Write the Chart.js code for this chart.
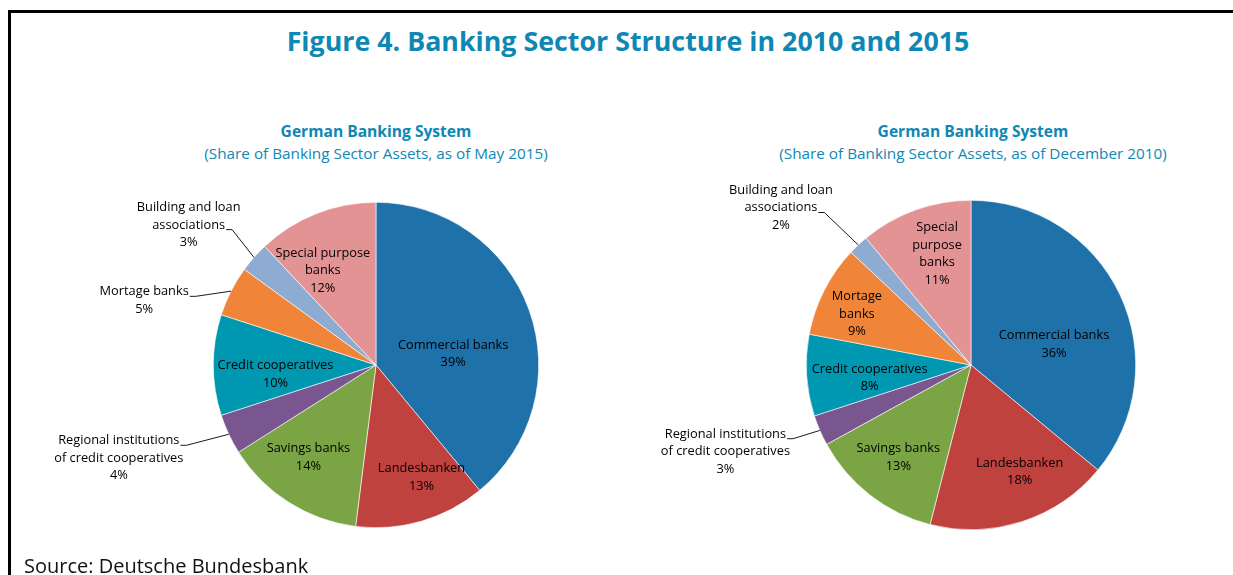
<!DOCTYPE html>
<html>
<head>
<meta charset="utf-8">
<script src="https://cdn.jsdelivr.net/npm/chart.js"></script>
<style>
  html, body { margin: 0; padding: 0; background: #fff; }
  body { width: 1233px; height: 575px; position: relative; overflow: hidden; font-family: "Open Sans", sans-serif; }
  .frame { position: absolute; left: 8px; top: 10px; width: 1240px; height: 600px; border-top: 3px solid #000; border-left: 3px solid #000; }
  .fig-title { position: absolute; left: 0; width: 1256px; top: 22px; text-align: center; font-weight: bold; font-size: 26.8px; color: #0f87b5; }
  .pie-title { position: absolute; text-align: center; color: #0f87b5; font-size: 15.3px; line-height: 22px; width: 600px; }
  .pie-title b { font-weight: bold; font-size: 15.6px; }
  .source { position: absolute; left: 24px; top: 552px; font-size: 20px; color: #111; }
  canvas { position: absolute; top: 0; }
</style>
</head>
<body>
<div class="frame"></div>
<div class="fig-title">Figure 4. Banking Sector Structure in 2010 and 2015</div>
<div class="pie-title" style="left:76px; top:120px;"><b>German Banking System</b><br>(Share of Banking Sector Assets, as of May 2015)</div>
<div class="pie-title" style="left:673px; top:120px;"><b>German Banking System</b><br>(Share of Banking Sector Assets, as of December 2010)</div>
<canvas id="pie2015" width="616" height="575" style="left:0"></canvas>
<canvas id="pie2010" width="617" height="575" style="left:616px"></canvas>
<div class="source">Source: Deutsche Bundesbank</div>

<script>
// bank groups, clockwise from 12 o'clock
const categories = ['Commercial banks', 'Landesbanken', 'Savings banks',
  'Regional institutions of credit cooperatives', 'Credit cooperatives',
  'Mortage banks', 'Building and loan associations', 'Special purpose banks'];

const shares2015 = [39, 13, 14, 4, 10, 5, 3, 12];
const shares2010 = [36, 18, 13, 3, 8, 9, 2, 11];

const colors = ['#1f71aa', '#c0423f', '#7ba545', '#7a5691', '#0097b0', '#f0853a', '#8eabd1', '#e49394'];

// how each label's name is broken into lines
const lines2015 = [['Commercial banks'], ['Landesbanken'], ['Savings banks'],
  ['Regional institutions', 'of credit cooperatives'], ['Credit cooperatives'],
  ['Mortage banks'], ['Building and loan', 'associations'], ['Special purpose', 'banks']];
const lines2010 = [['Commercial banks'], ['Landesbanken'], ['Savings banks'],
  ['Regional institutions', 'of credit cooperatives'], ['Credit cooperatives'],
  ['Mortage', 'banks'], ['Building and loan', 'associations'], ['Special', 'purpose', 'banks']];

// label placement: [angle shift from slice middle (deg), distance as share of radius, leader line row or -1]
const place2015 = [[11, 0.48, -1], [-6, 0.74, -1], [4, 0.70, -1], [5.4, 1.68, 0],
  [-5, 0.62, -1], [-11.3, 1.48, 0], [-4.5, 1.44, 1], [-7.6, 0.67, -1]];
const place2010 = [[11, 0.52, -1], [-6.6, 0.71, -1], [0.6, 0.71, -1], [4.1, 1.58, 0],
  [-3.2, 0.62, -1], [-2.7, 0.76, -1], [-7.1, 1.50, 1], [2.9, 0.71, -1]];

const LINE_H = 17.6;

const sliceLabels = {
  id: 'sliceLabels',
  afterDatasetsDraw(chart, args, opts) {
    const ctx = chart.ctx;
    const meta = chart.getDatasetMeta(0);
    const values = chart.data.datasets[0].data;
    ctx.save();
    ctx.font = '12.8px "Open Sans", sans-serif';
    ctx.fillStyle = '#000';
    ctx.strokeStyle = '#000';
    ctx.lineWidth = 0.9;
    ctx.textAlign = 'center';
    ctx.textBaseline = 'alphabetic';
    meta.data.forEach((arc, i) => {
      const p = arc.getProps(['x', 'y', 'startAngle', 'endAngle', 'outerRadius'], true);
      const mid = (p.startAngle + p.endAngle) / 2;
      const [shift, dist, leadRow] = opts.place[i];
      const a = mid + shift * Math.PI / 180;
      const cx = p.x + Math.cos(a) * dist * p.outerRadius;
      const cy = p.y + Math.sin(a) * dist * p.outerRadius;
      const rows = opts.lines[i].concat([values[i] + '%']);
      const top = cy - rows.length * LINE_H / 2;
      rows.forEach((t, r) => {
        ctx.fillText(t, cx, top + (r + 1) * LINE_H - 4.5);
      });
      if (leadRow >= 0) {
        const w = ctx.measureText(rows[leadRow]).width;
        const lx = cx + w / 2 + 1;
        const ly = top + (leadRow + 1) * LINE_H - 3.5;
        const ex = p.x + Math.cos(mid) * p.outerRadius;
        const ey = p.y + Math.sin(mid) * p.outerRadius;
        ctx.beginPath();
        ctx.moveTo(lx, ly);
        ctx.lineTo(lx + 6, ly);
        ctx.lineTo(ex, ey);
        ctx.stroke();
      }
    });
    ctx.restore();
  }
};

function makePie(id, values, lines, place, padding) {
  return new Chart(document.getElementById(id), {
    type: 'pie',
    data: {
      labels: categories,
      datasets: [{
        data: values,
        backgroundColor: colors,
        borderColor: '#ffffff',
        borderWidth: 0.6
      }]
    },
    options: {
      responsive: false,
      animation: false,
      layout: { padding: padding },
      plugins: {
        legend: { display: false },
        tooltip: { enabled: false },
        sliceLabels: { lines: lines, place: place }
      }
    },
    plugins: [sliceLabels]
  });
}

makePie('pie2015', shares2015, lines2015, place2015, { left: 213, right: 77, top: 202, bottom: 47 });
makePie('pie2010', shares2010, lines2010, place2010, { left: 190, right: 97, top: 200, bottom: 45 });
</script>
</body>
</html>
